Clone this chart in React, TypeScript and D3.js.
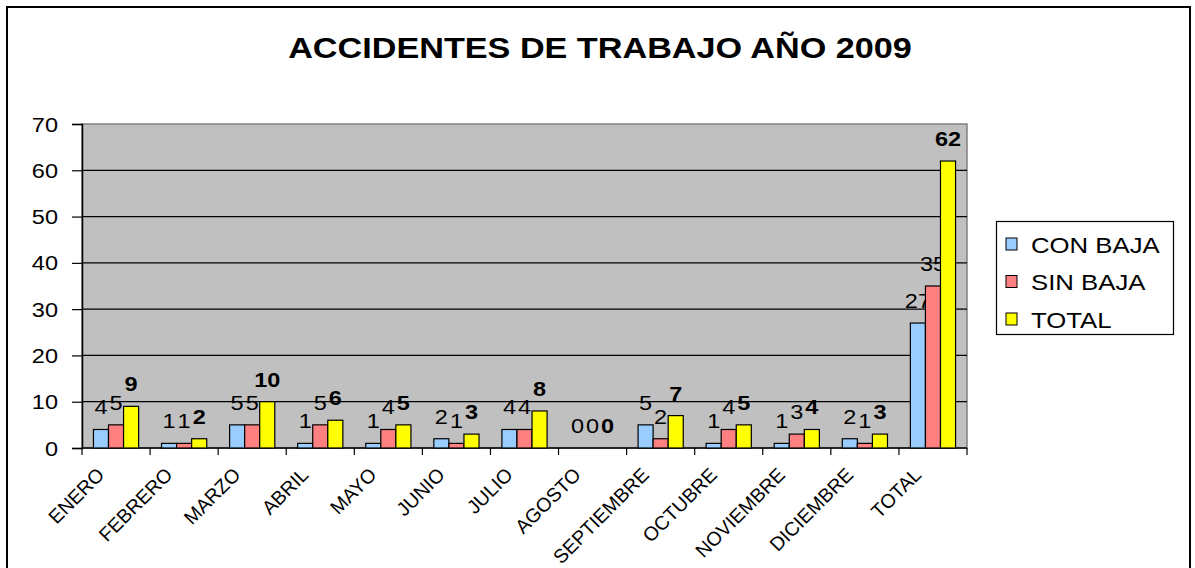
import React, { useEffect, useRef } from "react";
import * as d3 from "d3";

const categories = [
  "ENERO", "FEBRERO", "MARZO", "ABRIL", "MAYO", "JUNIO", "JULIO",
  "AGOSTO", "SEPTIEMBRE", "OCTUBRE", "NOVIEMBRE", "DICIEMBRE", "TOTAL",
];
const conBaja = [4, 1, 5, 1, 1, 2, 4, 0, 5, 1, 1, 2, 27];
const sinBaja = [5, 1, 5, 5, 4, 1, 4, 0, 2, 4, 3, 1, 35];
const total = [9, 2, 10, 6, 5, 3, 8, 0, 7, 5, 4, 3, 62];
const seriesNames = ["CON BAJA", "SIN BAJA", "TOTAL"];
const seriesColors = ["#99CCFF", "#FF8080", "#FFFF00"];
const yTicks = [0, 10, 20, 30, 40, 50, 60, 70];
const title = "ACCIDENTES DE TRABAJO AÑO 2009";

const FONT = "'Liberation Sans', Arial, sans-serif";
const SX = 1.12; // the picture's text is a bit wide

const App = () => {
  const svgRef = useRef<SVGSVGElement>(null);

  useEffect(() => {
    const width = 1195, height = 568;
    const plot = { left: 82, top: 124, right: 967, bottom: 448 };

    const svg = d3.select(svgRef.current);
    svg.selectAll("*").remove();
    svg.attr("width", width).attr("height", height);

    // frame of the chart
    svg.append("rect")
      .attr("x", 7).attr("y", 7)
      .attr("width", 1183).attr("height", 600)
      .attr("fill", "#fff")
      .attr("stroke", "#000")
      .attr("stroke-width", 2);

    const txt = (g, x, y, s, size, opts: any = {}) =>
      g.append("text")
        .attr("transform", `translate(${x},${y}) scale(${opts.sx ?? SX},1)`)
        .attr("font-family", FONT)
        .attr("font-size", size)
        .attr("font-weight", opts.bold ? "bold" : "normal")
        .attr("text-anchor", opts.anchor ?? "middle")
        .attr("fill", "#000")
        .text(s);

    // title
    txt(svg, 600, 58, title, 30, { bold: true, sx: 1.14 });

    const x0 = d3.scaleBand()
      .domain(categories)
      .range([plot.left, plot.right]);

    const x1 = d3.scaleBand()
      .domain(seriesNames)
      .range([0, x0.bandwidth()])
      .paddingOuter(0.76)
      .paddingInner(0);

    const y = d3.scaleLinear()
      .domain([0, 70])
      .range([plot.bottom, plot.top]);

    // plot area
    svg.append("rect")
      .attr("x", plot.left).attr("y", plot.top)
      .attr("width", plot.right - plot.left)
      .attr("height", plot.bottom - plot.top)
      .attr("fill", "#C0C0C0")
      .attr("stroke", "#808080")
      .attr("stroke-width", 1.5);

    // gridlines
    svg.append("g")
      .selectAll("line")
      .data(yTicks.filter(d => d > 0 && d < 70))
      .enter()
      .append("line")
      .attr("x1", plot.left).attr("x2", plot.right)
      .attr("y1", d => y(d)).attr("y2", d => y(d))
      .attr("stroke", "#000")
      .attr("stroke-width", 1.2);

    // y axis
    const yAxis = svg.append("g")
      .attr("transform", `translate(${plot.left},0)`)
      .call(d3.axisLeft(y).tickValues(yTicks).tickSize(10).tickFormat(() => ""));
    yAxis.select(".domain").attr("stroke", "#000").attr("stroke-width", 1.5);
    yAxis.selectAll(".tick line").attr("stroke", "#000").attr("stroke-width", 1.2);
    yTicks.forEach(t => txt(svg, 58, y(t) + 7.5, String(t), 21, { anchor: "end" }));

    // x axis
    const bounds = categories.map(c => x0(c)).concat([plot.right]);
    svg.append("g")
      .selectAll("line")
      .data(bounds)
      .enter()
      .append("line")
      .attr("x1", d => d).attr("x2", d => d)
      .attr("y1", plot.bottom).attr("y2", plot.bottom + 7)
      .attr("stroke", "#000")
      .attr("stroke-width", 1.2);

    svg.append("line")
      .attr("x1", plot.left).attr("x2", plot.right)
      .attr("y1", plot.bottom).attr("y2", plot.bottom)
      .attr("stroke", "#000")
      .attr("stroke-width", 1.5);

    svg.append("g")
      .selectAll("text")
      .data(categories)
      .enter()
      .append("text")
      .attr("transform", d => `translate(${x0(d) + x0.bandwidth() / 2 - 10.5},${plot.bottom + 28}) rotate(-45)`)
      .attr("font-family", FONT)
      .attr("font-size", 19.5)
      .attr("text-anchor", "end")
      .text(d => d);

    // bars
    const series = [conBaja, sinBaja, total];
    series.forEach((vals, si) => {
      const name = seriesNames[si];
      const g = svg.append("g");
      g.selectAll("rect")
        .data(vals)
        .enter()
        .append("rect")
        .attr("x", (d, i) => x0(categories[i]) + x1(name))
        .attr("y", d => y(d))
        .attr("width", x1.bandwidth())
        .attr("height", d => y(0) - y(d))
        .attr("fill", seriesColors[si])
        .attr("stroke", "#000")
        .attr("stroke-width", d => (d > 0 ? 1.2 : 0));

      vals.forEach((v, i) => {
        const cx = x0(categories[i]) + x1(name) + x1.bandwidth() / 2;
        txt(g, cx, y(v) - 15, String(v), 21, { bold: si === 2 });
      });
    });

    // legend
    const lg = svg.append("g");
    lg.append("rect")
      .attr("x", 996.5).attr("y", 221.5)
      .attr("width", 177).attr("height", 113)
      .attr("fill", "#fff")
      .attr("stroke", "#000")
      .attr("stroke-width", 1.2);

    seriesNames.forEach((name, i) => {
      const cy = 244 + i * 37.5;
      lg.append("rect")
        .attr("x", 1006).attr("y", cy - 6)
        .attr("width", 11).attr("height", 12)
        .attr("fill", seriesColors[i])
        .attr("stroke", "#000")
        .attr("stroke-width", 1);
      txt(lg, 1031, cy + 8.5, name, 23, { anchor: "start" });
    });
  }, []);

  return (
    <svg
      ref={svgRef}
      style={{ position: "fixed", left: 0, top: 0, display: "block", background: "#fff" }}
    />
  );
};

export default App;
